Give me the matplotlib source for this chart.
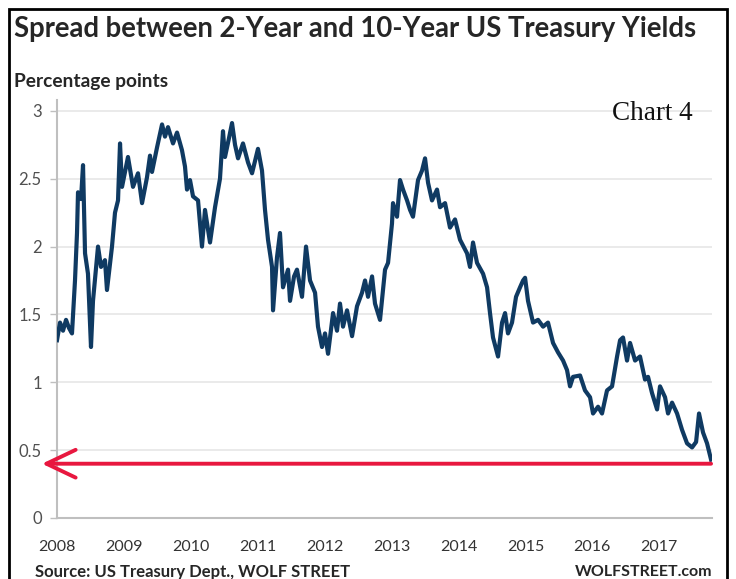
import matplotlib
matplotlib.use("Agg")
import matplotlib.pyplot as plt
from matplotlib.patches import Rectangle

# ---- data (decimal years, percentage points) ----
years = [
    2008.000, 2008.045, 2008.090, 2008.135, 2008.179, 2008.224, 2008.269, 2008.299, 2008.314, 2008.359,
    2008.389, 2008.419, 2008.463, 2008.508, 2008.538, 2008.613, 2008.658, 2008.717, 2008.747, 2008.822,
    2008.867, 2008.912, 2008.942, 2008.972, 2009.016, 2009.061, 2009.136, 2009.211, 2009.271, 2009.345,
    2009.390, 2009.420, 2009.495, 2009.570, 2009.614, 2009.659, 2009.734, 2009.794, 2009.868, 2009.913,
    2009.943, 2009.988, 2010.033, 2010.108, 2010.167, 2010.212, 2010.287, 2010.362, 2010.436, 2010.481,
    2010.511, 2010.571, 2010.616, 2010.661, 2010.706, 2010.780, 2010.855, 2010.915, 2011.004, 2011.064,
    2011.109, 2011.154, 2011.214, 2011.229, 2011.288, 2011.333, 2011.378, 2011.453, 2011.483, 2011.543,
    2011.587, 2011.662, 2011.722, 2011.782, 2011.857, 2011.901, 2011.961, 2012.006, 2012.051, 2012.126,
    2012.185, 2012.230, 2012.275, 2012.335, 2012.410, 2012.484, 2012.559, 2012.604, 2012.649, 2012.709,
    2012.753, 2012.828, 2012.903, 2012.948, 2013.007, 2013.022, 2013.082, 2013.127, 2013.172, 2013.232,
    2013.277, 2013.321, 2013.396, 2013.456, 2013.501, 2013.546, 2013.605, 2013.680, 2013.725, 2013.800,
    2013.874, 2013.949, 2014.024, 2014.129, 2014.173, 2014.218, 2014.278, 2014.368, 2014.428, 2014.472,
    2014.517, 2014.592, 2014.652, 2014.697, 2014.741, 2014.801, 2014.861, 2014.921, 2014.966, 2014.996,
    2015.040, 2015.115, 2015.190, 2015.265, 2015.339, 2015.414, 2015.489, 2015.564, 2015.623, 2015.668,
    2015.713, 2015.818, 2015.892, 2015.967, 2016.012, 2016.087, 2016.146, 2016.221, 2016.296, 2016.371,
    2016.416, 2016.460, 2016.520, 2016.565, 2016.640, 2016.714, 2016.789, 2016.834, 2016.894, 2016.969,
    2017.013, 2017.088, 2017.133, 2017.193, 2017.268, 2017.342, 2017.417, 2017.492, 2017.552, 2017.596,
    2017.656, 2017.716, 2017.776,
]
spread = [
    1.31, 1.44, 1.38, 1.46, 1.40, 1.36, 1.75, 2.10, 2.40, 2.35,
    2.60, 1.95, 1.80, 1.26, 1.60, 2.00, 1.85, 1.90, 1.68, 2.00,
    2.25, 2.34, 2.76, 2.44, 2.55, 2.66, 2.44, 2.54, 2.32, 2.51,
    2.67, 2.55, 2.73, 2.90, 2.81, 2.88, 2.76, 2.84, 2.71, 2.59,
    2.42, 2.49, 2.37, 2.34, 2.00, 2.27, 2.03, 2.29, 2.50, 2.85,
    2.66, 2.80, 2.91, 2.75, 2.65, 2.76, 2.62, 2.54, 2.72, 2.56,
    2.27, 2.05, 1.85, 1.53, 1.92, 2.10, 1.70, 1.83, 1.60, 1.78,
    1.83, 1.63, 2.00, 1.75, 1.66, 1.41, 1.26, 1.36, 1.21, 1.51,
    1.38, 1.58, 1.41, 1.53, 1.34, 1.56, 1.66, 1.75, 1.63, 1.78,
    1.58, 1.46, 1.83, 1.88, 2.17, 2.32, 2.22, 2.49, 2.42, 2.34,
    2.27, 2.22, 2.49, 2.56, 2.65, 2.47, 2.34, 2.42, 2.29, 2.32,
    2.14, 2.20, 2.05, 1.95, 1.85, 2.03, 1.88, 1.80, 1.70, 1.51,
    1.33, 1.19, 1.44, 1.51, 1.36, 1.44, 1.63, 1.70, 1.75, 1.77,
    1.60, 1.44, 1.46, 1.41, 1.44, 1.29, 1.22, 1.16, 1.09, 0.97,
    1.04, 1.05, 0.94, 0.89, 0.77, 0.82, 0.77, 0.94, 0.97, 1.19,
    1.31, 1.33, 1.16, 1.29, 1.16, 1.19, 1.02, 1.04, 0.92, 0.80,
    0.97, 0.89, 0.77, 0.85, 0.77, 0.65, 0.55, 0.52, 0.56, 0.77,
    0.63, 0.55, 0.43,
]
x_ticks = [2008, 2009, 2010, 2011, 2012, 2013, 2014, 2015, 2016, 2017]
y_ticks = [0, 0.5, 1, 1.5, 2, 2.5, 3]
y_tick_labels = ["0", "0.5", "1", "1.5", "2", "2.5", "3"]
arrow_level = 0.4

title = "Spread between 2-Year and 10-Year US Treasury Yields"
unit_label = "Percentage points"
source = "Source: US Treasury Dept., WOLF STREET"
brand = "WOLFSTREET.com"
chart_tag = "Chart 4"

W, H = 736, 579
fig = plt.figure(figsize=(W / 100, H / 100), dpi=100)
fig.patch.set_facecolor("white")

sans = ["Lato", "DejaVu Sans"]
ax = fig.add_axes([57 / W, 61 / H, (712 - 57) / W, (518 - 100) / H])
ax.set_xlim(2008, 2017.79)
ax.set_ylim(0, 3.08)

ax.plot(years, spread, color="#0f3a62", lw=3.0, solid_joinstyle="round", zorder=3)

# grid & spines
ax.set_yticks(y_ticks)
ax.set_yticklabels(y_tick_labels)
ax.set_xticks(x_ticks)
ax.set_xticklabels([str(y) for y in x_ticks])
for v in y_ticks[1:]:
    ax.axhline(v, color="#e6e6e6", lw=1.2, zorder=1)
for s in ["top", "right"]:
    ax.spines[s].set_visible(False)
ax.spines["left"].set_color("#bfbfbf")
ax.spines["bottom"].set_color("#bfbfbf")
ax.spines["left"].set_linewidth(1.5)
ax.spines["bottom"].set_linewidth(1.5)
ax.tick_params(axis="y", length=5, width=1, color="#bfbfbf", pad=6,
               labelsize=12, labelcolor="#505050")
ax.tick_params(axis="x", length=0, pad=16, labelsize=11.5, labelcolor="#333333")
for lab in ax.get_xticklabels() + ax.get_yticklabels():
    lab.set_family(sans)

# red arrow at arrow_level
ax.annotate("", xy=(2007.775, arrow_level), xytext=(years[-1], arrow_level),
            xycoords="data", textcoords="data", annotation_clip=False,
            arrowprops=dict(arrowstyle="->,head_length=21,head_width=10",
                            mutation_scale=1, color="#e8173f", lw=2.8,
                            shrinkA=0, shrinkB=0), zorder=4)

# texts
fig.text(14 / W, 1 - 29 / H, title, family=sans, fontweight="bold",
         fontsize=19.8, color="#262626", va="center", ha="left")
fig.text(14 / W, 1 - 81 / H, unit_label, family=sans, fontweight="bold",
         fontsize=13.8, color="#262626", va="center", ha="left")
fig.text(693 / W, 1 - 113 / H, chart_tag, family=["Liberation Serif", "DejaVu Serif"],
         fontsize=19.5, color="#111111", va="center", ha="right")
fig.text(35 / W, 1 - 572 / H, source, family=sans, fontweight="bold",
         fontsize=12, color="#262626", va="center", ha="left")
fig.text(712 / W, 1 - 572 / H, brand, family=sans, fontweight="bold",
         fontsize=11.5, color="#262626", va="center", ha="right")

# outer frame
fig.patches.append(Rectangle((9 / W, -0.05), (727 - 9) / W, 1.05 - 9 / H,
                             transform=fig.transFigure, fill=False,
                             edgecolor="black", lw=2))

fig.savefig("out.png", dpi=100)
